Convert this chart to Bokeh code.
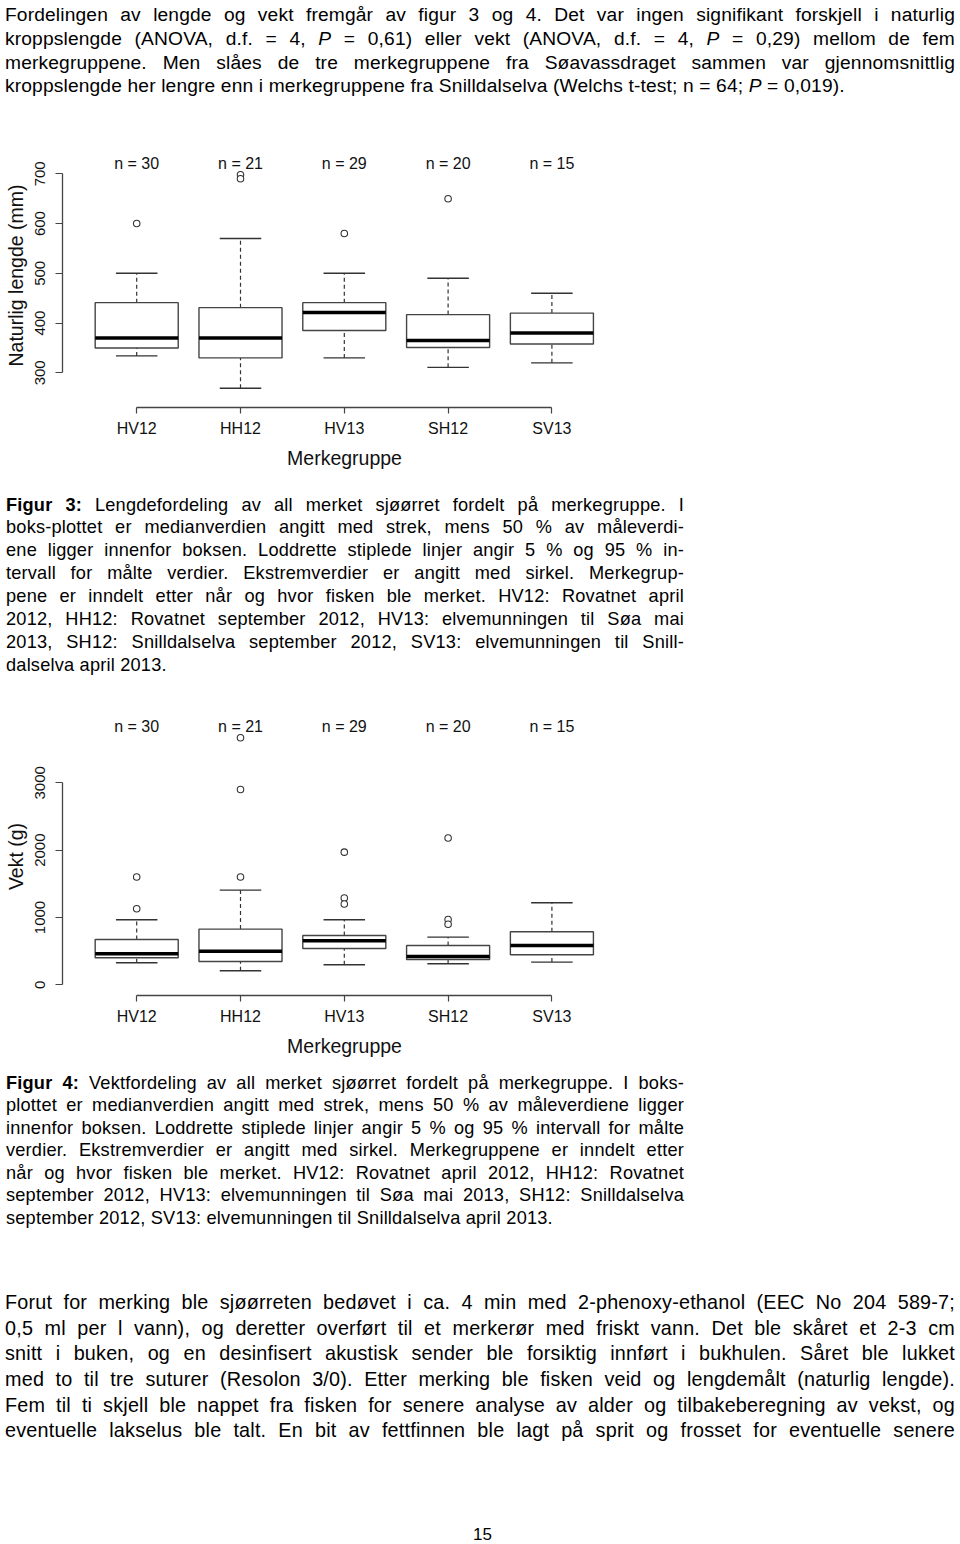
from bokeh.plotting import figure
from bokeh.layouts import column
from bokeh.models import Div, FixedTicker, Range1d
from bokeh.core.properties import value
from bokeh.embed import file_html
from bokeh.resources import INLINE

# ---------------- data ----------------
groups = ["HV12", "HH12", "HV13", "SH12", "SV13"]
n_counts = [30, 21, 29, 20, 15]

# Figure 3: natural length (mm)
len_lower = [334, 269, 330, 311, 320]
len_q1 = [350, 330, 385, 351, 358]
len_median = [370, 370, 421, 365, 380]
len_q3 = [441, 431, 441, 417, 420]
len_upper = [500, 570, 500, 490, 460]
len_out_group = ["HV12", "HH12", "HH12", "HV13", "SH12"]
len_out_value = [600, 698, 690, 580, 650]
len_ticks = [300, 400, 500, 600, 700]

# Figure 4: weight (g)
wt_lower = [327, 208, 297, 312, 337]
wt_q1 = [401, 347, 540, 376, 446]
wt_median = [460, 500, 653, 421, 584]
wt_q3 = [673, 827, 733, 584, 787]
wt_upper = [965, 1406, 965, 708, 1218]
wt_out_group = ["HV12", "HV12", "HH12", "HH12", "HH12",
                "HV13", "HV13", "HV13", "SH12", "SH12", "SH12"]
wt_out_value = [1600, 1130, 3670, 2900, 1600,
                1970, 1290, 1200, 2180, 970, 900]
wt_ticks = [0, 1000, 2000, 3000]

FONT = "Liberation Sans"

# horizontal page geometry of the plots (pixels)
X_FIRST = 136.2      # centre of first group
X_STEP = 103.8       # distance between groups
FRAME_L = 62         # y-axis position
FRAME_R = 626        # right edge of plot region


def box_figure(lower, q1, med, q3, upper, out_g, out_v, ticks, ylabel,
               y_start, y_end, n_y, height, top, bottom):
    xs = [i + 1 for i in range(len(groups))]
    x0 = 1 - (X_FIRST - FRAME_L) / X_STEP
    x1 = 1 + (FRAME_R - X_FIRST) / X_STEP
    p = figure(width=960, height=height, title=None,
               x_range=Range1d(x0, x1), y_range=Range1d(y_start, y_end),
               output_backend="svg", toolbar_location=None,
               min_border_left=FRAME_L, min_border_right=960 - FRAME_R,
               min_border_top=top, min_border_bottom=bottom)
    p.grid.visible = False
    p.outline_line_color = None
    p.background_fill_color = "white"
    p.border_fill_color = "white"

    hw = 0.4
    cw = 0.2
    # whiskers
    p.segment(x0=xs, y0=q3, x1=xs, y1=upper, line_color="#333",
              line_width=1.2, line_dash="4 3")
    p.segment(x0=xs, y0=lower, x1=xs, y1=q1, line_color="#333",
              line_width=1.2, line_dash="4 3")
    # staples
    p.segment(x0=[x - cw for x in xs], y0=upper, x1=[x + cw for x in xs],
              y1=upper, line_color="#333", line_width=1.4)
    p.segment(x0=[x - cw for x in xs], y0=lower, x1=[x + cw for x in xs],
              y1=lower, line_color="#333", line_width=1.4)
    # boxes
    p.vbar(x=xs, width=2 * hw, bottom=q1, top=q3, fill_color="white",
           line_color="#444", line_width=1.4)
    # medians
    p.segment(x0=[x - hw for x in xs], y0=med, x1=[x + hw for x in xs],
              y1=med, line_color="black", line_width=3.5)
    # outliers
    ox = [groups.index(g) + 1 for g in out_g]
    p.scatter(x=ox, y=out_v, marker="circle", size=6.5, fill_color="white",
              line_color="#333", line_width=1.1)
    # n labels
    p.text(x=xs, y=[n_y] * len(xs), text=[f"n = {n}" for n in n_counts],
           text_align="center", text_baseline="middle",
           text_font=value(FONT), text_font_size="16px", text_color="#111")

    # axes
    p.yaxis.ticker = FixedTicker(ticks=ticks)
    p.yaxis.bounds = (ticks[0], ticks[-1])
    p.yaxis.major_label_orientation = "vertical"
    p.yaxis.minor_tick_line_color = None
    p.yaxis.major_tick_out = 7
    p.yaxis.major_tick_in = 0
    p.yaxis.major_label_standoff = 10
    p.yaxis.axis_label = ylabel
    p.yaxis.axis_label_standoff = 6

    p.xaxis.ticker = FixedTicker(ticks=xs)
    p.xaxis.bounds = (xs[0], xs[-1])
    p.xaxis.major_label_overrides = {x: g for x, g in zip(xs, groups)}
    p.xaxis.minor_tick_line_color = None
    p.xaxis.major_tick_out = 6
    p.xaxis.major_tick_in = 0
    p.xaxis.major_label_standoff = 6
    p.xaxis.axis_label = "Merkegruppe"
    p.xaxis.axis_label_standoff = 7

    for ax in (p.xaxis[0], p.yaxis[0]):
        ax.axis_line_color = "#444"
        ax.axis_line_width = 1.3
        ax.major_tick_line_color = "#444"
        ax.major_tick_line_width = 1.2
        ax.major_label_text_font = FONT
        ax.major_label_text_font_size = "15px"
        ax.major_label_text_color = "#111"
        ax.axis_label_text_font = FONT
        ax.axis_label_text_font_size = "19.5px"
        ax.axis_label_text_font_style = "normal"
        ax.axis_label_text_color = "#111"
    p.xaxis.major_label_text_font_size = "16px"
    return p


# figure 3: figure spans page y 110..482, frame 143..407
# tick 700 -> page y 173.3, tick 300 -> page y 372.3
s1 = (372.3 - 173.3) / 400.0
fig3 = box_figure(len_lower, len_q1, len_median, len_q3, len_upper,
                  len_out_group, len_out_value, len_ticks,
                  "Naturlig lengde (mm)",
                  300 - (407 - 372.3) / s1, 700 + (173.3 - 143) / s1,
                  700 + (173.3 - 163) / s1, 372, 33, 75)

# figure 4: figure spans page y 690..1070, frame 717..995
# tick 3000 -> page y 782.3, tick 0 -> page y 984.3
s2 = (984.3 - 782.3) / 3000.0
fig4 = box_figure(wt_lower, wt_q1, wt_median, wt_q3, wt_upper,
                  wt_out_group, wt_out_value, wt_ticks, "Vekt (g)",
                  -(995 - 984.3) / s2, (984.3 - 717) / s2,
                  (984.3 - 726) / s2, 380, 27, 75)


def text_block(lines, font_px, line_h, top_pad, left, width, height,
               last_left=True, spacing=0.0):
    parts = []
    for i, ln in enumerate(lines):
        last = (i == len(lines) - 1) and last_left
        align = "left" if last else "justify"
        parts.append(
            f'<div style="width:{width}px;height:{line_h}px;'
            f'line-height:{line_h}px;white-space:nowrap;text-align:justify;'
            f'text-align-last:{align};">{ln}</div>')
    html = (f'<div style="padding-top:{top_pad}px;padding-left:{left}px;'
            f"font-family:'Liberation Sans',Arial,sans-serif;"
            f'letter-spacing:{spacing}px;'
            f'font-size:{font_px}px;color:#000;">' + "".join(parts) + "</div>")
    return Div(text=html, width=960, height=height, margin=0)


top_lines = [
    "Fordelingen av lengde og vekt fremgår av figur 3 og 4. Det var ingen signifikant forskjell i naturlig",
    "kroppslengde (ANOVA, d.f. = 4, <i>P</i> = 0,61) eller vekt (ANOVA, d.f. = 4, <i>P</i> = 0,29) mellom de fem",
    "merkegruppene. Men slåes de tre merkegruppene fra Søavassdraget sammen var gjennomsnittlig",
    "kroppslengde her lengre enn i merkegruppene fra Snilldalselva (Welchs t-test; n = 64; <i>P</i> = 0,019).",
]
cap3_lines = [
    "<b>Figur 3:</b> Lengdefordeling av all merket sjøørret fordelt på merkegruppe. I",
    "boks-plottet er medianverdien angitt med strek, mens 50 % av måleverdi-",
    "ene ligger innenfor boksen. Loddrette stiplede linjer angir 5 % og 95 % in-",
    "tervall for målte verdier. Ekstremverdier er angitt med sirkel. Merkegrup-",
    "pene er inndelt etter når og hvor fisken ble merket. HV12: Rovatnet april",
    "2012, HH12: Rovatnet september 2012, HV13: elvemunningen til Søa mai",
    "2013, SH12: Snilldalselva september 2012, SV13: elvemunningen til Snill-",
    "dalselva april 2013.",
]
cap4_lines = [
    "<b>Figur 4:</b> Vektfordeling av all merket sjøørret fordelt på merkegruppe. I boks-",
    "plottet er medianverdien angitt med strek, mens 50 % av måleverdiene ligger",
    "innenfor boksen. Loddrette stiplede linjer angir 5 % og 95 % intervall for målte",
    "verdier. Ekstremverdier er angitt med sirkel. Merkegruppene er inndelt etter",
    "når og hvor fisken ble merket. HV12: Rovatnet april 2012, HH12: Rovatnet",
    "september 2012, HV13: elvemunningen til Søa mai 2013, SH12: Snilldalselva",
    "september 2012, SV13: elvemunningen til Snilldalselva april 2013.",
]
body_lines = [
    "Forut for merking ble sjøørreten bedøvet i ca. 4 min med 2-phenoxy-ethanol (EEC No 204 589-7;",
    "0,5 ml per l vann), og deretter overført til et merkerør med friskt vann. Det ble skåret et 2-3 cm",
    "snitt i buken, og en desinfisert akustisk sender ble forsiktig innført i bukhulen. Såret ble lukket",
    "med to til tre suturer (Resolon 3/0). Etter merking ble fisken veid og lengdemålt (naturlig lengde).",
    "Fem til ti skjell ble nappet fra fisken for senere analyse av alder og tilbakeberegning av vekst, og",
    "eventuelle lakselus ble talt. En bit av fettfinnen ble lagt på sprit og frosset for eventuelle senere",
]

div_top = text_block(top_lines, 19.2, 23.8, 3, 5, 950, 110, spacing=0.15)
div_cap3 = text_block(cap3_lines, 18.2, 22.86, 11.6, 6, 678, 208,
                      spacing=0.2)
div_cap4 = text_block(cap4_lines, 18.2, 22.5, 1.8, 6, 678, 180,
                      spacing=0.2)
div_body = text_block(body_lines, 19.8, 25.6, 40.2, 5, 950, 250,
                      last_left=False, spacing=0.2)
div_page = Div(
    text=('<div style="padding-top:23px;width:960px;text-align:left;'
          "font-family:'Liberation Sans',Arial,sans-serif;font-size:17px;"
          'color:#000;"><span style="margin-left:473px;">15</span></div>'),
    width=960, height=44, margin=0)

layout = column(div_top, fig3, div_cap3, fig4, div_cap4, div_body, div_page,
                spacing=0)

open("out.html", "w").write(file_html(layout, INLINE))
